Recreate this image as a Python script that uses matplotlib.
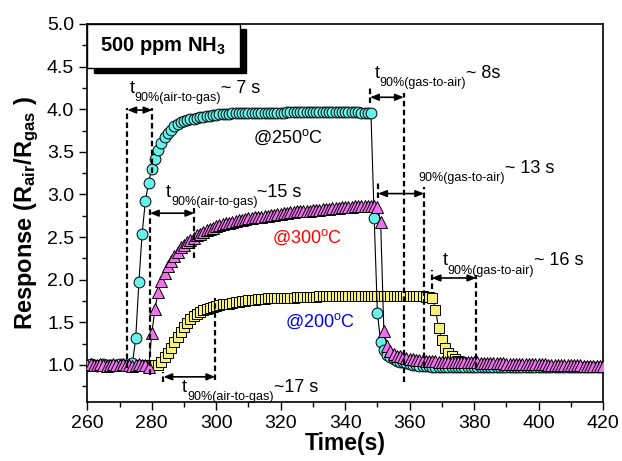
import numpy as np
import matplotlib
matplotlib.use('Agg')
import matplotlib.pyplot as plt
from matplotlib.patches import Rectangle
from matplotlib.font_manager import FontProperties
from matplotlib.ticker import MultipleLocator, FormatStrFormatter

plt.rcParams['font.family'] = ['Liberation Sans', 'DejaVu Sans']
plt.rcParams['mathtext.fontset'] = 'custom'
plt.rcParams['mathtext.rm'] = 'Liberation Sans'
plt.rcParams['mathtext.it'] = 'Liberation Sans:italic'
plt.rcParams['mathtext.bf'] = 'Liberation Sans:bold'

# time axis, one reading per second
time_s = np.arange(260, 421, 1)

# response at 250 C (cyan circles)
resp_250 = [
    1.00, 1.01, 1.00, 0.99, 1.00, 1.01, 1.00, 1.00, 0.99, 1.00,
    1.01, 1.00, 1.00, 1.00, 1.02, 1.31, 1.97, 2.54, 2.92, 3.14,
    3.30, 3.41, 3.52, 3.60, 3.67, 3.72, 3.76, 3.80, 3.83, 3.85,
    3.86, 3.87, 3.88, 3.89, 3.90, 3.91, 3.91, 3.92, 3.92, 3.93,
    3.93, 3.94, 3.94, 3.94, 3.94, 3.95, 3.95, 3.95, 3.95, 3.95,
    3.95, 3.95, 3.96, 3.96, 3.96, 3.96, 3.96, 3.96, 3.96, 3.96,
    3.96, 3.96, 3.97, 3.97, 3.97, 3.97, 3.97, 3.97, 3.97, 3.97,
    3.97, 3.97, 3.97, 3.97, 3.97, 3.97, 3.97, 3.97, 3.97, 3.97,
    3.97, 3.97, 3.97, 3.97, 3.97, 3.96, 3.96, 3.96, 3.95, 2.72,
    1.61, 1.27, 1.18, 1.12, 1.09, 1.07, 1.05, 1.04, 1.03, 1.02,
    1.01, 1.00, 1.00, 0.99, 0.99, 0.99, 0.99, 0.98, 0.98, 0.98,
    0.98, 0.98, 0.98, 0.98, 0.98, 0.98, 0.98, 0.98, 0.98, 0.98,
    0.98, 0.97, 0.97, 0.97, 0.97, 0.97, 0.97, 0.97, 0.97, 0.97,
    0.97, 0.97, 0.97, 0.97, 0.97, 0.97, 0.97, 0.97, 0.97, 0.97,
    0.97, 0.97, 0.97, 0.97, 0.97, 0.97, 0.97, 0.97, 0.97, 0.97,
    0.97, 0.97, 0.97, 0.97, 0.97, 0.97, 0.97, 0.97, 0.97, 0.97,
    0.97,
]

# response at 300 C (magenta triangles)
resp_300 = [
    1.00, 1.01, 1.00, 1.00, 1.01, 1.00, 0.99, 1.00, 1.01, 1.00,
    1.00, 1.01, 1.00, 1.00, 0.99, 1.00, 1.01, 1.00, 1.00, 0.97,
    1.37, 1.66, 1.86, 1.98, 2.08, 2.16, 2.22, 2.28, 2.33, 2.38,
    2.41, 2.44, 2.47, 2.49, 2.52, 2.54, 2.56, 2.58, 2.60, 2.61,
    2.63, 2.64, 2.65, 2.66, 2.67, 2.68, 2.69, 2.70, 2.70, 2.71,
    2.72, 2.72, 2.73, 2.74, 2.74, 2.75, 2.75, 2.76, 2.76, 2.77,
    2.77, 2.78, 2.78, 2.79, 2.79, 2.80, 2.80, 2.80, 2.81, 2.81,
    2.82, 2.82, 2.82, 2.83, 2.83, 2.83, 2.84, 2.84, 2.84, 2.85,
    2.85, 2.85, 2.85, 2.86, 2.86, 2.86, 2.86, 2.86, 2.86, 2.86,
    2.85, 2.68, 1.40, 1.22, 1.16, 1.13, 1.11, 1.10, 1.09, 1.08,
    1.07, 1.07, 1.06, 1.06, 1.06, 1.05, 1.05, 1.05, 1.05, 1.04,
    1.04, 1.04, 1.04, 1.04, 1.03, 1.03, 1.03, 1.03, 1.03, 1.03,
    1.03, 1.03, 1.02, 1.02, 1.02, 1.02, 1.02, 1.02, 1.02, 1.02,
    1.01, 1.01, 1.01, 1.01, 1.01, 1.01, 1.01, 1.01, 1.01, 1.01,
    1.01, 1.01, 1.01, 1.00, 1.00, 1.00, 1.00, 1.00, 1.00, 1.00,
    1.00, 1.00, 1.00, 1.00, 0.99, 0.99, 0.99, 0.99, 0.99, 0.99,
    0.99,
]

# response at 200 C (yellow squares)
resp_200 = [
    1.00, 1.00, 1.00, 1.00, 1.00, 1.00, 1.00, 1.00, 1.00, 1.00,
    1.00, 1.00, 1.00, 1.00, 1.00, 1.00, 1.00, 1.00, 1.00, 1.00,
    1.00, 1.00, 1.00, 1.04, 1.09, 1.14, 1.20, 1.27, 1.33, 1.39,
    1.45, 1.49, 1.54, 1.57, 1.60, 1.62, 1.64, 1.66, 1.67, 1.68,
    1.69, 1.70, 1.71, 1.72, 1.72, 1.73, 1.74, 1.74, 1.75, 1.75,
    1.76, 1.76, 1.76, 1.77, 1.77, 1.77, 1.78, 1.78, 1.78, 1.78,
    1.79, 1.79, 1.79, 1.79, 1.79, 1.80, 1.80, 1.80, 1.80, 1.80,
    1.80, 1.80, 1.81, 1.81, 1.81, 1.81, 1.81, 1.81, 1.81, 1.81,
    1.81, 1.81, 1.81, 1.81, 1.81, 1.81, 1.81, 1.81, 1.81, 1.81,
    1.81, 1.81, 1.81, 1.81, 1.81, 1.81, 1.81, 1.81, 1.81, 1.81,
    1.81, 1.81, 1.81, 1.81, 1.81, 1.80, 1.80, 1.79, 1.65, 1.43,
    1.29, 1.20, 1.14, 1.10, 1.07, 1.05, 1.03, 1.02, 1.01, 1.00,
    1.00, 0.99, 0.99, 0.99, 0.98, 0.98, 0.98, 0.98, 0.98, 0.98,
    0.98, 0.98, 0.98, 0.98, 0.98, 0.98, 0.98, 0.98, 0.98, 0.98,
    0.97, 0.97, 0.97, 0.97, 0.97, 0.97, 0.97, 0.97, 0.97, 0.97,
    0.97, 0.97, 0.97, 0.97, 0.97, 0.97, 0.97, 0.97, 0.97, 0.97,
    0.97,
]

# t90 guides: (left x, left y0, left y1, right x, right y0, right y1, arrow y)
t90_guides = [
    (272.4, 0.96, 4.01, 280.2, 3.25, 4.01, 3.99),
    (279.4, 0.88, 2.83, 293.2, 2.26, 2.85, 2.78),
    (283.6, 0.80, 0.92, 299.7, 0.82, 1.79, 0.86),
    (347.7, 4.07, 4.26, 358.2, 0.80, 4.19, 4.14),
    (350.2, 2.96, 3.16, 364.5, 0.98, 3.09, 3.01),
    (366.8, 1.89, 2.11, 380.7, 0.96, 2.06, 2.02),
]

# t90 labels: (x, y, subscript, tail, show "t")
t90_labels = [
    (273.2, 4.19, '90%(air-to-gas)', '~ 7 s', True),
    (284.4, 2.97, '90%(air-to-gas)', '~15 s', True),
    (289.4, 0.683, '90%(air-to-gas)', '~17 s', True),
    (349.2, 4.37, '90%(gas-to-air)', '~ 8s', True),
    (362.6, 3.25, '90%(gas-to-air)', '~ 13 s', False),
    (370.3, 2.17, '90%(gas-to-air)', '~ 16 s', True),
]

fig, ax = plt.subplots(figsize=(6.22, 4.61), dpi=100)
fig.subplots_adjust(left=0.1404, right=0.9695, top=0.948, bottom=0.128)

ax.plot(time_s, resp_200, color='k', lw=0.8, marker='s', markersize=7.2,
        markerfacecolor='#F5F07A', markeredgecolor='k', markeredgewidth=0.7, zorder=2)
ax.plot(time_s, resp_250, color='k', lw=0.8, marker='o', markersize=7.8,
        markerfacecolor='#66F2EA', markeredgecolor='k', markeredgewidth=0.7, zorder=3)
ax.plot(time_s, resp_300, color='k', lw=0.8, marker='^', markersize=8.8,
        markerfacecolor='#F070F0', markeredgecolor='k', markeredgewidth=0.7, zorder=4)

# dashed guides and double arrows
for xl, yl0, yl1, xr, yr0, yr1, ya in t90_guides:
    ax.plot([xl, xl], [yl0, yl1], color='k', lw=1.6, dashes=(2.5, 1.5), zorder=6)
    ax.plot([xr, xr], [yr0, yr1], color='k', lw=1.6, dashes=(2.5, 1.5), zorder=6)
    ax.annotate('', xy=(xr, ya), xytext=(xl, ya),
                arrowprops=dict(arrowstyle='<|-|>,head_length=0.5,head_width=0.2',
                                color='k', lw=1.2, shrinkA=0, shrinkB=0,
                                mutation_scale=10), zorder=6)

renderer = fig.canvas.get_renderer()


def text_width_pt(s, size):
    # width of a plain string in points
    w, h, d = renderer.get_text_width_height_descent(
        s, FontProperties(family=['Liberation Sans'], size=size), ismath=False)
    return w * 72 / fig.dpi


def t90_label(x, y, sub, tail, show_t):
    dx = 0.0
    if show_t:
        ax.annotate('t', (x, y), xytext=(0, 0), textcoords='offset points',
                    fontsize=13, va='baseline', ha='left')
        dx += text_width_pt('t', 13)
    ax.annotate(sub, (x, y), xytext=(dx, -6), textcoords='offset points',
                fontsize=9, va='baseline', ha='left')
    dx += text_width_pt(sub, 9)
    ax.annotate(tail, (x, y), xytext=(dx, 0), textcoords='offset points',
                fontsize=13, va='baseline', ha='left')


for lab in t90_labels:
    t90_label(*lab)

ax.text(311.4, 3.60, r'@250$^{\rm o}$C', fontsize=13, color='k', va='baseline')
ax.text(317.2, 2.43, r'@300$^{\rm o}$C', fontsize=13, color='#FF0000', va='baseline')
ax.text(321.3, 1.45, r'@200$^{\rm o}$C', fontsize=13, color='#0000FF', va='baseline')

# title box with a drop shadow
ax.add_patch(Rectangle((0.012, 0.871), 0.296, 0.116, transform=ax.transAxes,
                       facecolor='k', edgecolor='k', zorder=9, clip_on=False))
ax.add_patch(Rectangle((0.0, 0.884), 0.296, 0.116, transform=ax.transAxes,
                       facecolor='white', edgecolor='k', lw=1.0, zorder=10, clip_on=False))
ax.text(0.147, 0.942, r'500 ppm NH$_\mathbf{3}$', transform=ax.transAxes,
        fontsize=14.5, fontweight='bold', ha='center', va='center', zorder=11)

ax.set_xlim(260, 420)
ax.set_ylim(0.565, 5.0)
ax.xaxis.set_major_locator(MultipleLocator(20))
ax.xaxis.set_minor_locator(MultipleLocator(10))
ax.yaxis.set_major_locator(MultipleLocator(0.5))
ax.yaxis.set_minor_locator(MultipleLocator(0.25))
ax.yaxis.set_major_formatter(FormatStrFormatter('%.1f'))
ax.tick_params(which='both', direction='out', top=False, right=False, width=1.0,
               labelsize=14)
ax.tick_params(which='major', length=6)
ax.tick_params(which='minor', length=3.5)
for sp in ax.spines.values():
    sp.set_linewidth(1.2)

ax.set_xlabel('Time(s)', fontsize=16.5, fontweight='bold', labelpad=0)
ax.set_ylabel(r'Response (R$_{\mathbf{air}}$/R$_{\mathbf{gas}}$ )', fontsize=17,
              fontweight='bold', labelpad=4)

fig.savefig('out.png', dpi=100)
